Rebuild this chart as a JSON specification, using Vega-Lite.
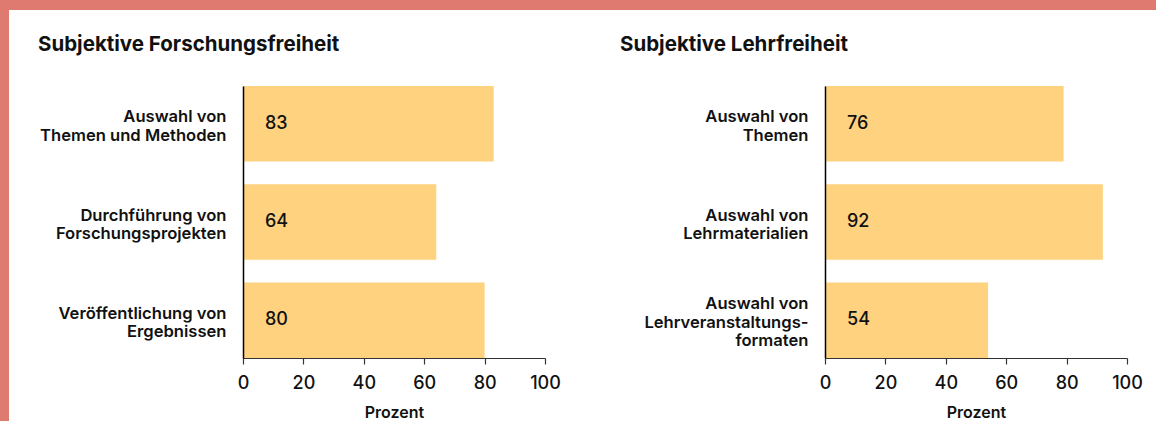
{
  "$schema": "https://vega.github.io/schema/vega-lite/v6.json",
  "background": "white",
  "padding": 0,
  "autosize": {"type": "pad"},
  "config": {
    "font": "Inter",
    "view": {"stroke": null},
    "title": {"font": "Inter", "fontSize": 20.5, "fontWeight": 700, "color": "#111111", "anchor": "start", "frame": "group", "dx": -205, "offset": 31},
    "axisY": {"domainColor": "#000000", "domainWidth": 1.5, "ticks": false, "labelPadding": 17, "labelFontSize": 16.6, "labelFontWeight": 600, "labelColor": "#111111", "labelLineHeight": 18.5, "labelLimit": 300, "labelExpr": "split(datum.label, '|')", "title": null},
    "axisX": {"domainColor": "#333333", "domainWidth": 1.2, "tickColor": "#333333", "tickSize": 6, "tickWidth": 1.2, "labelFontSize": 18, "labelFontWeight": 500, "labelColor": "#111111", "labelPadding": 10, "labelFlush": false, "titleFontSize": 16, "titleFontWeight": 600, "titleColor": "#111111", "titlePadding": 12, "grid": false}
  },
  "datasets": {
    "forschung": [
      {"item": "Auswahl von|Themen und Methoden", "value": 83, "label": "83"},
      {"item": "Durchführung von|Forschungsprojekten", "value": 64, "label": "64"},
      {"item": "Veröffentlichung von|Ergebnissen", "value": 80, "label": "80"}
    ],
    "lehre": [
      {"item": "Auswahl von|Themen", "value": 79, "label": "76"},
      {"item": "Auswahl von|Lehrmaterialien", "value": 92, "label": "92"},
      {"item": "Auswahl von|Lehrveranstaltungs-|formaten", "value": 54, "label": "54"}
    ]
  },
  "spacing": 0,
  "bounds": "flush",
  "hconcat": [
    {"width": 9, "height": 421, "data": {"values": []}, "mark": "rect", "view": {"fill": "#DF7A70", "stroke": null}},
    {
      "spacing": 76,
      "bounds": "flush",
      "vconcat": [
        {"width": 1147, "height": 10, "data": {"values": []}, "mark": "rect", "view": {"fill": "#DF7A70", "stroke": null}},
        {
          "spacing": 233,
          "bounds": "flush",
          "hconcat": [
            {"width": 1, "height": 10, "data": {"values": []}, "mark": "rect", "view": {"stroke": null}},
            {
              "spacing": 280,
              "bounds": "flush",
              "hconcat": [
                {
                  "title": "Subjektive Forschungsfreiheit",
                  "width": 302,
                  "height": 272,
                  "data": {"name": "forschung"},
                  "encoding": {
                    "y": {"field": "item", "type": "nominal", "sort": null, "scale": {"paddingInner": 0.23, "paddingOuter": 0}, "axis": {"zindex": 2, "labelOffset": -6.5}}
                  },
                  "layer": [
                    {"mark": {"type": "bar", "color": "#FED27F"}, "encoding": {"x": {"field": "value", "type": "quantitative", "scale": {"domain": [0, 100]}, "axis": {"values": [0, 20, 40, 60, 80, 100], "zindex": 2}, "title": "Prozent"}}},
                    {"mark": {"type": "text", "align": "left", "baseline": "middle", "dx": 22, "fontSize": 18, "fontWeight": 500, "color": "#111111"}, "encoding": {"x": {"datum": 0}, "text": {"field": "label"}}}
                  ]
                },
                {
                  "title": "Subjektive Lehrfreiheit",
                  "width": 302,
                  "height": 272,
                  "data": {"name": "lehre"},
                  "encoding": {
                    "y": {"field": "item", "type": "nominal", "sort": null, "scale": {"paddingInner": 0.23, "paddingOuter": 0}, "axis": {"zindex": 2, "labelOffset": {"condition": {"test": "indexof(datum.value, 'formaten') >= 0", "value": -16}, "value": -6.5}}}
                  },
                  "layer": [
                    {"mark": {"type": "bar", "color": "#FED27F"}, "encoding": {"x": {"field": "value", "type": "quantitative", "scale": {"domain": [0, 100]}, "axis": {"values": [0, 20, 40, 60, 80, 100], "zindex": 2}, "title": "Prozent"}}},
                    {"mark": {"type": "text", "align": "left", "baseline": "middle", "dx": 22, "fontSize": 18, "fontWeight": 500, "color": "#111111"}, "encoding": {"x": {"datum": 0}, "text": {"field": "label"}}}
                  ]
                }
              ]
            }
          ]
        }
      ]
    }
  ]
}
